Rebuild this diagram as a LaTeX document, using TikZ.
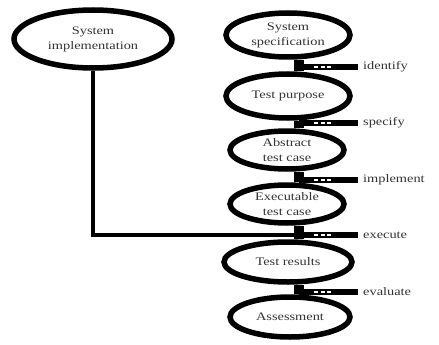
\documentclass[tikz,border=0pt]{standalone}
\usepackage{fontspec}
\setmainfont{Liberation Serif}[FakeStretch=1.25]
\usetikzlibrary{shapes.geometric}
\begin{document}
\begin{tikzpicture}[x=1pt,y=-1pt,
  oval/.style={ellipse,draw=black,line width=5.5pt,inner sep=0pt,align=center,
    text=black!80,font=\fontsize{11.5}{15}\selectfont},
  lbl/.style={anchor=west,inner xsep=5pt,inner ysep=0pt,text=black!80,
    font=\fontsize{11.5}{13}\selectfont},
  spine/.style={line width=10pt},
  rel/.style={line width=5.5pt},
  hollow/.style={line width=2.5pt,white,dash pattern=on 4pt off 2.5pt},
  conn/.style={line width=4.5pt}]
\useasboundingbox (0,0) rectangle (439,345);
% nodes
\node[oval,minimum width=158pt,minimum height=58pt] (impl) at (93,39) {System\\implementation};
\node[oval,minimum width=124pt,minimum height=44pt] (spec) at (288,35) {System\\specification};
\node[oval,minimum width=124pt,minimum height=44pt] (purp) at (288,96) {Test purpose};
\node[oval,minimum width=114pt,minimum height=38pt] (abst) at (287,150) {Abstract\\test case};
\node[oval,minimum width=114pt,minimum height=38pt] (exec) at (287,204) {Executable\\test case};
\node[oval,minimum width=128pt,minimum height=40pt] (res) at (288,262) {Test results};
\node[oval,minimum width=120pt,minimum height=40pt] (ass) at (290,317) {Assessment};
% labels
\node[lbl] (lid) at (358,67) {identify};
\node[lbl] (lsp) at (358,123) {specify};
\node[lbl] (lim) at (358,180) {implement};
\node[lbl] (lex) at (358,235) {execute};
\node[lbl] (lev) at (358,292) {evaluate};
% junctions
\coordinate (j1) at (299,67);
\coordinate (j2) at (299,123);
\coordinate (j3) at (299,180);
\coordinate (j4) at (299,235);
\coordinate (j5) at (299,292);
% spines
\draw[spine] (spec.south -| j1) -- (purp.north -| j1);
\draw[spine] (purp.south -| j2) -- (abst.north -| j2);
\draw[spine] (abst.south -| j3) -- (exec.north -| j3);
\draw[spine] (exec.south -| j4) -- (res.north -| j4);
\draw[spine] (res.south -| j5) -- (ass.north -| j5);
% relation lines
\draw[rel] (j1) -- (lid.west);
\draw[rel] (j2) -- (lsp.west);
\draw[rel] (j3) -- (lim.west);
\draw[rel] (j5) -- (lev.west);
\draw[conn] (impl.south) |- (lex.west);
\draw[rel] (j4) -- (lex.west);
% hollow dashed parts
\foreach \j in {j1,j2,j3,j4,j5}
  \draw[hollow] ([xshift=15pt]\j) -- ([xshift=34pt]\j);
\end{tikzpicture}
\end{document}
